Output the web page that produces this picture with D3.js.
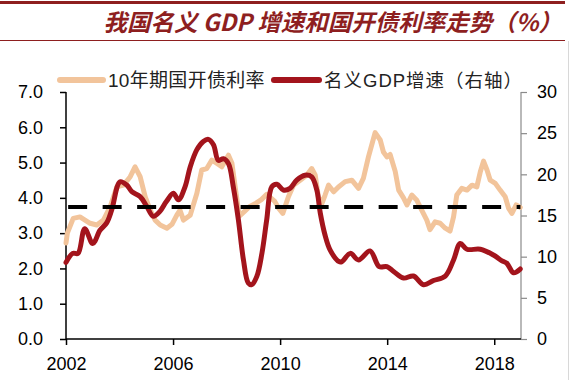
<!DOCTYPE html>
<html><head><meta charset="utf-8">
<script src="https://cdn.jsdelivr.net/npm/d3@7"></script>
<style>
html,body{margin:0;padding:0;background:#fff;}
svg{display:block;}
text{font-family:"Liberation Sans",Arial,"Noto Sans CJK SC",sans-serif;}
</style></head>
<body>
<svg id="chart" width="572" height="390"></svg>
<script>
const titleText = "我国名义 GDP 增速和国开债利率走势（%）";
const legendLabels = ["10年期国开债利率", "名义GDP增速（右轴）"];
const xTicks = [2002, 2006, 2010, 2014, 2018];
const leftTicks = [0, 1, 2, 3, 4, 5, 6, 7];
const rightTicks = [0, 5, 10, 15, 20, 25, 30];
const dashedLevel = 3.74;

const bondDates = [2002.0,2002.05,2002.27,2002.52,2002.71,2002.9,2003.15,2003.4,2003.65,2003.9,2004.15,2004.4,2004.58,2004.77,2004.96,2005.15,2005.33,2005.52,2005.77,2005.96,2006.14,2006.26,2006.39,2006.64,2006.89,2007.07,2007.26,2007.45,2007.63,2007.82,2008.07,2008.2,2008.32,2008.44,2008.5,2008.65,2008.85,2009.1,2009.3,2009.5,2009.65,2009.8,2009.95,2010.1,2010.31,2010.5,2010.75,2011.0,2011.18,2011.31,2011.43,2011.56,2011.68,2011.81,2012.0,2012.18,2012.43,2012.68,2012.93,2013.11,2013.3,2013.55,2013.74,2013.86,2013.99,2014.11,2014.3,2014.43,2014.61,2014.74,2014.92,2015.1,2015.29,2015.48,2015.6,2015.79,2015.98,2016.17,2016.35,2016.48,2016.6,2016.79,2016.98,2017.17,2017.35,2017.48,2017.6,2017.73,2017.85,2018.04,2018.22,2018.41,2018.54,2018.66,2018.82,2018.97];
const bondValues = [2.72,3.0,3.42,3.46,3.37,3.28,3.23,3.37,3.75,4.31,4.36,4.6,4.88,4.6,4.03,3.65,3.37,3.23,3.14,3.25,3.51,3.65,3.37,3.51,4.13,4.79,4.83,5.07,4.98,4.88,5.21,4.98,4.31,3.65,3.5,3.6,3.75,3.85,3.95,4.1,4.0,3.9,3.7,3.56,4.03,4.36,4.5,4.65,4.83,4.65,4.03,3.84,4.08,4.36,4.17,4.31,4.46,4.5,4.27,4.55,5.16,5.85,5.64,5.3,5.16,5.23,4.75,4.22,4.0,3.8,4.08,3.94,3.65,3.37,3.1,3.32,3.28,3.14,3.06,3.46,4.08,4.27,4.22,4.36,4.31,4.74,5.04,4.79,4.5,4.41,4.22,4.03,3.7,3.56,3.8,3.73];

const gdpDates = [2002.0,2002.25,2002.45,2002.7,2003.0,2003.27,2003.52,2003.71,2004.02,2004.27,2004.46,2004.77,2005.02,2005.26,2005.51,2005.75,2006.01,2006.2,2006.45,2006.64,2006.89,2007.13,2007.32,2007.51,2007.69,2007.88,2008.07,2008.25,2008.44,2008.63,2008.81,2008.94,2009.13,2009.32,2009.5,2009.69,2009.88,2010.12,2010.37,2010.62,2010.93,2011.18,2011.37,2011.5,2011.68,2011.87,2012.2,2012.31,2012.62,2012.93,2013.36,2013.7,2013.99,2014.24,2014.61,2014.98,2015.36,2015.73,2016.17,2016.48,2016.73,2016.98,2017.48,2017.97,2018.29,2018.47,2018.72,2018.97];
const gdpValues = [9.3,10.4,10.4,13.4,11.6,13.2,14.1,15.7,19.1,18.7,17.9,17.3,16.1,14.9,15.5,16.7,17.7,16.9,18.5,20.9,23.0,24.0,24.25,23.6,21.7,21.9,21.3,18.5,14.5,9.6,6.8,6.6,7.6,10.4,14.5,18.5,18.8,18.1,18.3,19.3,19.9,19.7,18.1,15.3,12.6,10.8,9.4,9.4,10.4,9.6,10.7,8.8,8.8,8.2,7.4,7.65,6.6,7.1,7.65,9.6,11.6,10.9,10.9,10.2,9.5,9.2,8.05,8.5];

const bondColor = "#F2C49B";
const gdpColor = "#A3141C";
const titleColor = "#8E1F1F";

const svg = d3.select("#chart");
const x = d3.scaleLinear().domain([2002, 2019]).range([66, 521]);
const yL = d3.scaleLinear().domain([0, 7]).range([339, 92]);
const yR = d3.scaleLinear().domain([0, 30]).range([339, 92]);

// header
svg.append("line").attr("x1",0).attr("x2",565).attr("y1",2.5).attr("y2",2.5)
  .attr("stroke",titleColor).attr("stroke-width",3);
svg.append("line").attr("x1",0).attr("x2",565).attr("y1",40.5).attr("y2",40.5)
  .attr("stroke",titleColor).attr("stroke-width",1);
svg.append("text").attr("x",562).attr("y",31).attr("text-anchor","end")
  .attr("fill",titleColor).attr("font-size",23.5).attr("font-style","italic").attr("font-weight","bold")
  .style("font-family","'Noto Sans CJK SC',sans-serif").text(titleText);

// right border
svg.append("line").attr("x1",568.5).attr("x2",568.5).attr("y1",41).attr("y2",380)
  .attr("stroke","#d8d8d8").attr("stroke-width",1);

// axes
const fmt1 = d3.format(".1f");
const gL = svg.append("g").attr("transform","translate(66,0)")
  .call(d3.axisLeft(yL).tickValues(leftTicks).tickFormat(fmt1).tickSize(6).tickPadding(17));
const gR = svg.append("g").attr("transform","translate(521,0)")
  .call(d3.axisRight(yR).tickValues(rightTicks).tickFormat(d3.format("d")).tickSize(6).tickPadding(10));
const gB = svg.append("g").attr("transform","translate(0,339)")
  .call(d3.axisBottom(x).tickValues(xTicks).tickFormat(d3.format("d")).tickSize(6).tickPadding(12));

[gL, gB].forEach(g => {
  g.selectAll(".domain").attr("stroke","#000").attr("stroke-width",1.5);
  g.selectAll(".tick line").attr("stroke","#000").attr("stroke-width",1.5);
});
gR.selectAll(".domain").attr("stroke","#8a8a8a").attr("stroke-width",1.2);
gR.selectAll(".tick line").attr("stroke","#8a8a8a").attr("stroke-width",1.2);
[gL, gR, gB].forEach(g => {
  g.selectAll(".tick text").attr("font-size",18).attr("fill","#000")
    .style("font-family","'Liberation Sans',Arial,sans-serif");
});
gL.selectAll(".domain").attr("d","M0,92V339");
gR.selectAll(".domain").attr("d","M0,92V339");
gB.selectAll(".domain").attr("d","M66,0H521");

// lines
const bondData = bondDates.map((d,i)=>[d,bondValues[i]]);
const gdpData = gdpDates.map((d,i)=>[d,gdpValues[i]]);
svg.append("path").datum(bondData)
  .attr("d", d3.line().x(d=>x(d[0])).y(d=>yL(d[1])).curve(d3.curveLinear))
  .attr("fill","none").attr("stroke",bondColor).attr("stroke-width",5).attr("stroke-linejoin","round").attr("stroke-linecap","round");
svg.append("path").datum(gdpData)
  .attr("d", d3.line().x(d=>x(d[0])).y(d=>yR(d[1])).curve(d3.curveCatmullRom))
  .attr("fill","none").attr("stroke",gdpColor).attr("stroke-width",5).attr("stroke-linejoin","round").attr("stroke-linecap","round");

// dashed
svg.append("line").attr("x1",x(2002.08)).attr("x2",x(2018.98))
  .attr("y1",yL(dashedLevel)).attr("y2",yL(dashedLevel))
  .attr("stroke","#000").attr("stroke-width",4).attr("stroke-dasharray","19,15.5");

// legend
const lg = svg.append("g");
lg.append("line").attr("x1",60).attr("x2",103).attr("y1",80).attr("y2",80)
  .attr("stroke",bondColor).attr("stroke-width",6).attr("stroke-linecap","round");
lg.append("text").attr("x",108).attr("y",80).attr("dominant-baseline","central")
  .attr("font-size",19).attr("fill","#222").style("letter-spacing","0.3px")
  .style("font-family","'Liberation Sans','Noto Sans CJK SC',sans-serif").text(legendLabels[0]);
lg.append("line").attr("x1",274).attr("x2",319).attr("y1",80).attr("y2",80)
  .attr("stroke",gdpColor).attr("stroke-width",6).attr("stroke-linecap","round");
lg.append("text").attr("x",324).attr("y",80).attr("dominant-baseline","central")
  .attr("font-size",18.5).attr("fill","#222").style("letter-spacing","1px")
  .style("font-family","'Liberation Sans','Noto Sans CJK SC',sans-serif").text(legendLabels[1]);
</script>
</body></html>
